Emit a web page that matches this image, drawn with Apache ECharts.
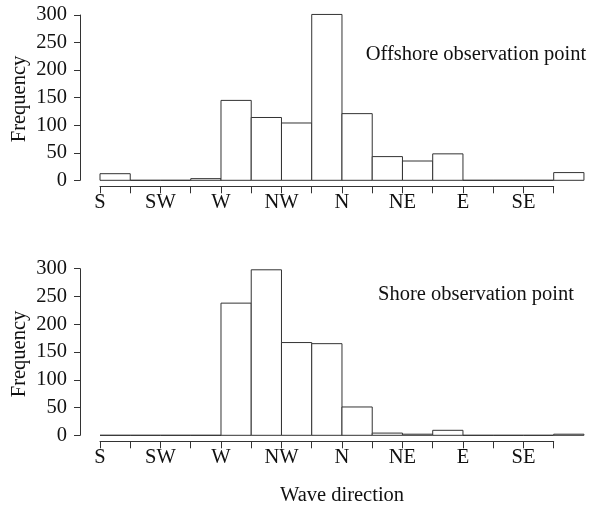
<!DOCTYPE html>
<html>
<head>
<meta charset="utf-8">
<script src="https://cdn.jsdelivr.net/npm/echarts@6/dist/echarts.min.js"></script>
<style>
  html, body { margin: 0; padding: 0; background: #fff; }
  #chart { width: 600px; height: 510px; }
</style>
</head>
<body>
<div id="chart"></div>
<script>
// 16 direction bins, starting at S and going clockwise (S -> W -> N -> E)
const binNames = ['S','SSW','SW','WSW','W','WNW','NW','NNW','N','NNE','NE','ENE','E','ESE','SE','SSE'];
// tick labels shown at bin boundaries 0..15
const tickLabels = ['S','','SW','','W','','NW','','N','','NE','','E','','SE',''];
const offshoreCounts = [12, 0, 0, 3, 145, 114, 104, 301, 121, 43, 35, 48, 0, 0, 0, 14];
const shoreCounts    = [0, 0, 0, 0, 238, 298, 167, 165, 51, 4, 2, 9, 0, 0, 0, 2];
const yTicks = [0, 50, 100, 150, 200, 250, 300];
const panelTitles = ['Offshore observation point', 'Shore observation point'];
const yTitle = 'Frequency';
const xTitle = 'Wave direction';

const FONT = "'Liberation Serif', 'DejaVu Serif', serif";
const FS = 20.5;
const LINE = '#333';

function toData(arr) { return arr.map((v, i) => [i, v, binNames[i]]); }

function renderItem(params, api) {
  const i = api.value(0), v = api.value(1);
  const p0 = api.coord([i, 0]);
  const p1 = api.coord([i + 1, v]);
  return {
    type: 'rect',
    shape: { x: p0[0], y: p1[1], width: p1[0] - p0[0], height: p0[1] - p1[1] },
    style: { fill: '#fff', stroke: LINE, lineWidth: 1 }
  };
}

function xAxisCfg(gridIndex) {
  return {
    type: 'value', gridIndex, min: 0, max: 15, interval: 1,
    position: 'bottom',
    offset: 6,
    splitLine: { show: false },
    axisLine: { show: true, onZero: false, lineStyle: { color: LINE, width: 1 } },
    axisTick: { show: true, length: 7, lineStyle: { color: LINE } },
    axisLabel: {
      show: true, margin: 6, color: '#111', fontFamily: FONT, fontSize: FS,
      showMinLabel: true, showMaxLabel: true,
      formatter: v => tickLabels[Math.round(v)] || ''
    }
  };
}
function yAxisCfg(gridIndex) {
  return {
    type: 'value', gridIndex, min: yTicks[0], max: yTicks[yTicks.length - 1], interval: 50,
    position: 'left',
    offset: 20,
    splitLine: { show: false },
    axisLine: { show: true, onZero: false, lineStyle: { color: LINE, width: 1 } },
    axisTick: { show: true, length: 6, lineStyle: { color: LINE } },
    axisLabel: { show: true, margin: 13, color: '#111', fontFamily: FONT, fontSize: FS }
  };
}

const chart = echarts.init(document.getElementById('chart'), null, { renderer: 'canvas' });
chart.setOption({
  backgroundColor: '#fff',
  animation: false,
  grid: [
    { left: 100, top: 15, width: 453.7, height: 165.3 },
    { left: 100, top: 268.7, width: 453.7, height: 166.6 }
  ],
  xAxis: [xAxisCfg(0), xAxisCfg(1)],
  yAxis: [yAxisCfg(0), yAxisCfg(1)],
  series: [
    { type: 'custom', xAxisIndex: 0, yAxisIndex: 0, clip: false, renderItem, data: toData(offshoreCounts) },
    { type: 'custom', xAxisIndex: 1, yAxisIndex: 1, clip: false, renderItem, data: toData(shoreCounts) }
  ],
  graphic: [
    { type: 'text', x: 476, y: 55, style: { text: panelTitles[0], font: FS + 'px ' + FONT, fill: '#111', textAlign: 'center', textVerticalAlign: 'middle' } },
    { type: 'text', x: 476, y: 295, style: { text: panelTitles[1], font: FS + 'px ' + FONT, fill: '#111', textAlign: 'center', textVerticalAlign: 'middle' } },
    { type: 'text', x: 20, y: 99, rotation: Math.PI / 2, style: { text: yTitle, font: FS + 'px ' + FONT, fill: '#111', textAlign: 'center', textVerticalAlign: 'middle' } },
    { type: 'text', x: 20, y: 354, rotation: Math.PI / 2, style: { text: yTitle, font: FS + 'px ' + FONT, fill: '#111', textAlign: 'center', textVerticalAlign: 'middle' } },
    { type: 'text', x: 342, y: 496, style: { text: xTitle, font: FS + 'px ' + FONT, fill: '#111', textAlign: 'center', textVerticalAlign: 'middle' } }
  ]
});
</script>
</body>
</html>
